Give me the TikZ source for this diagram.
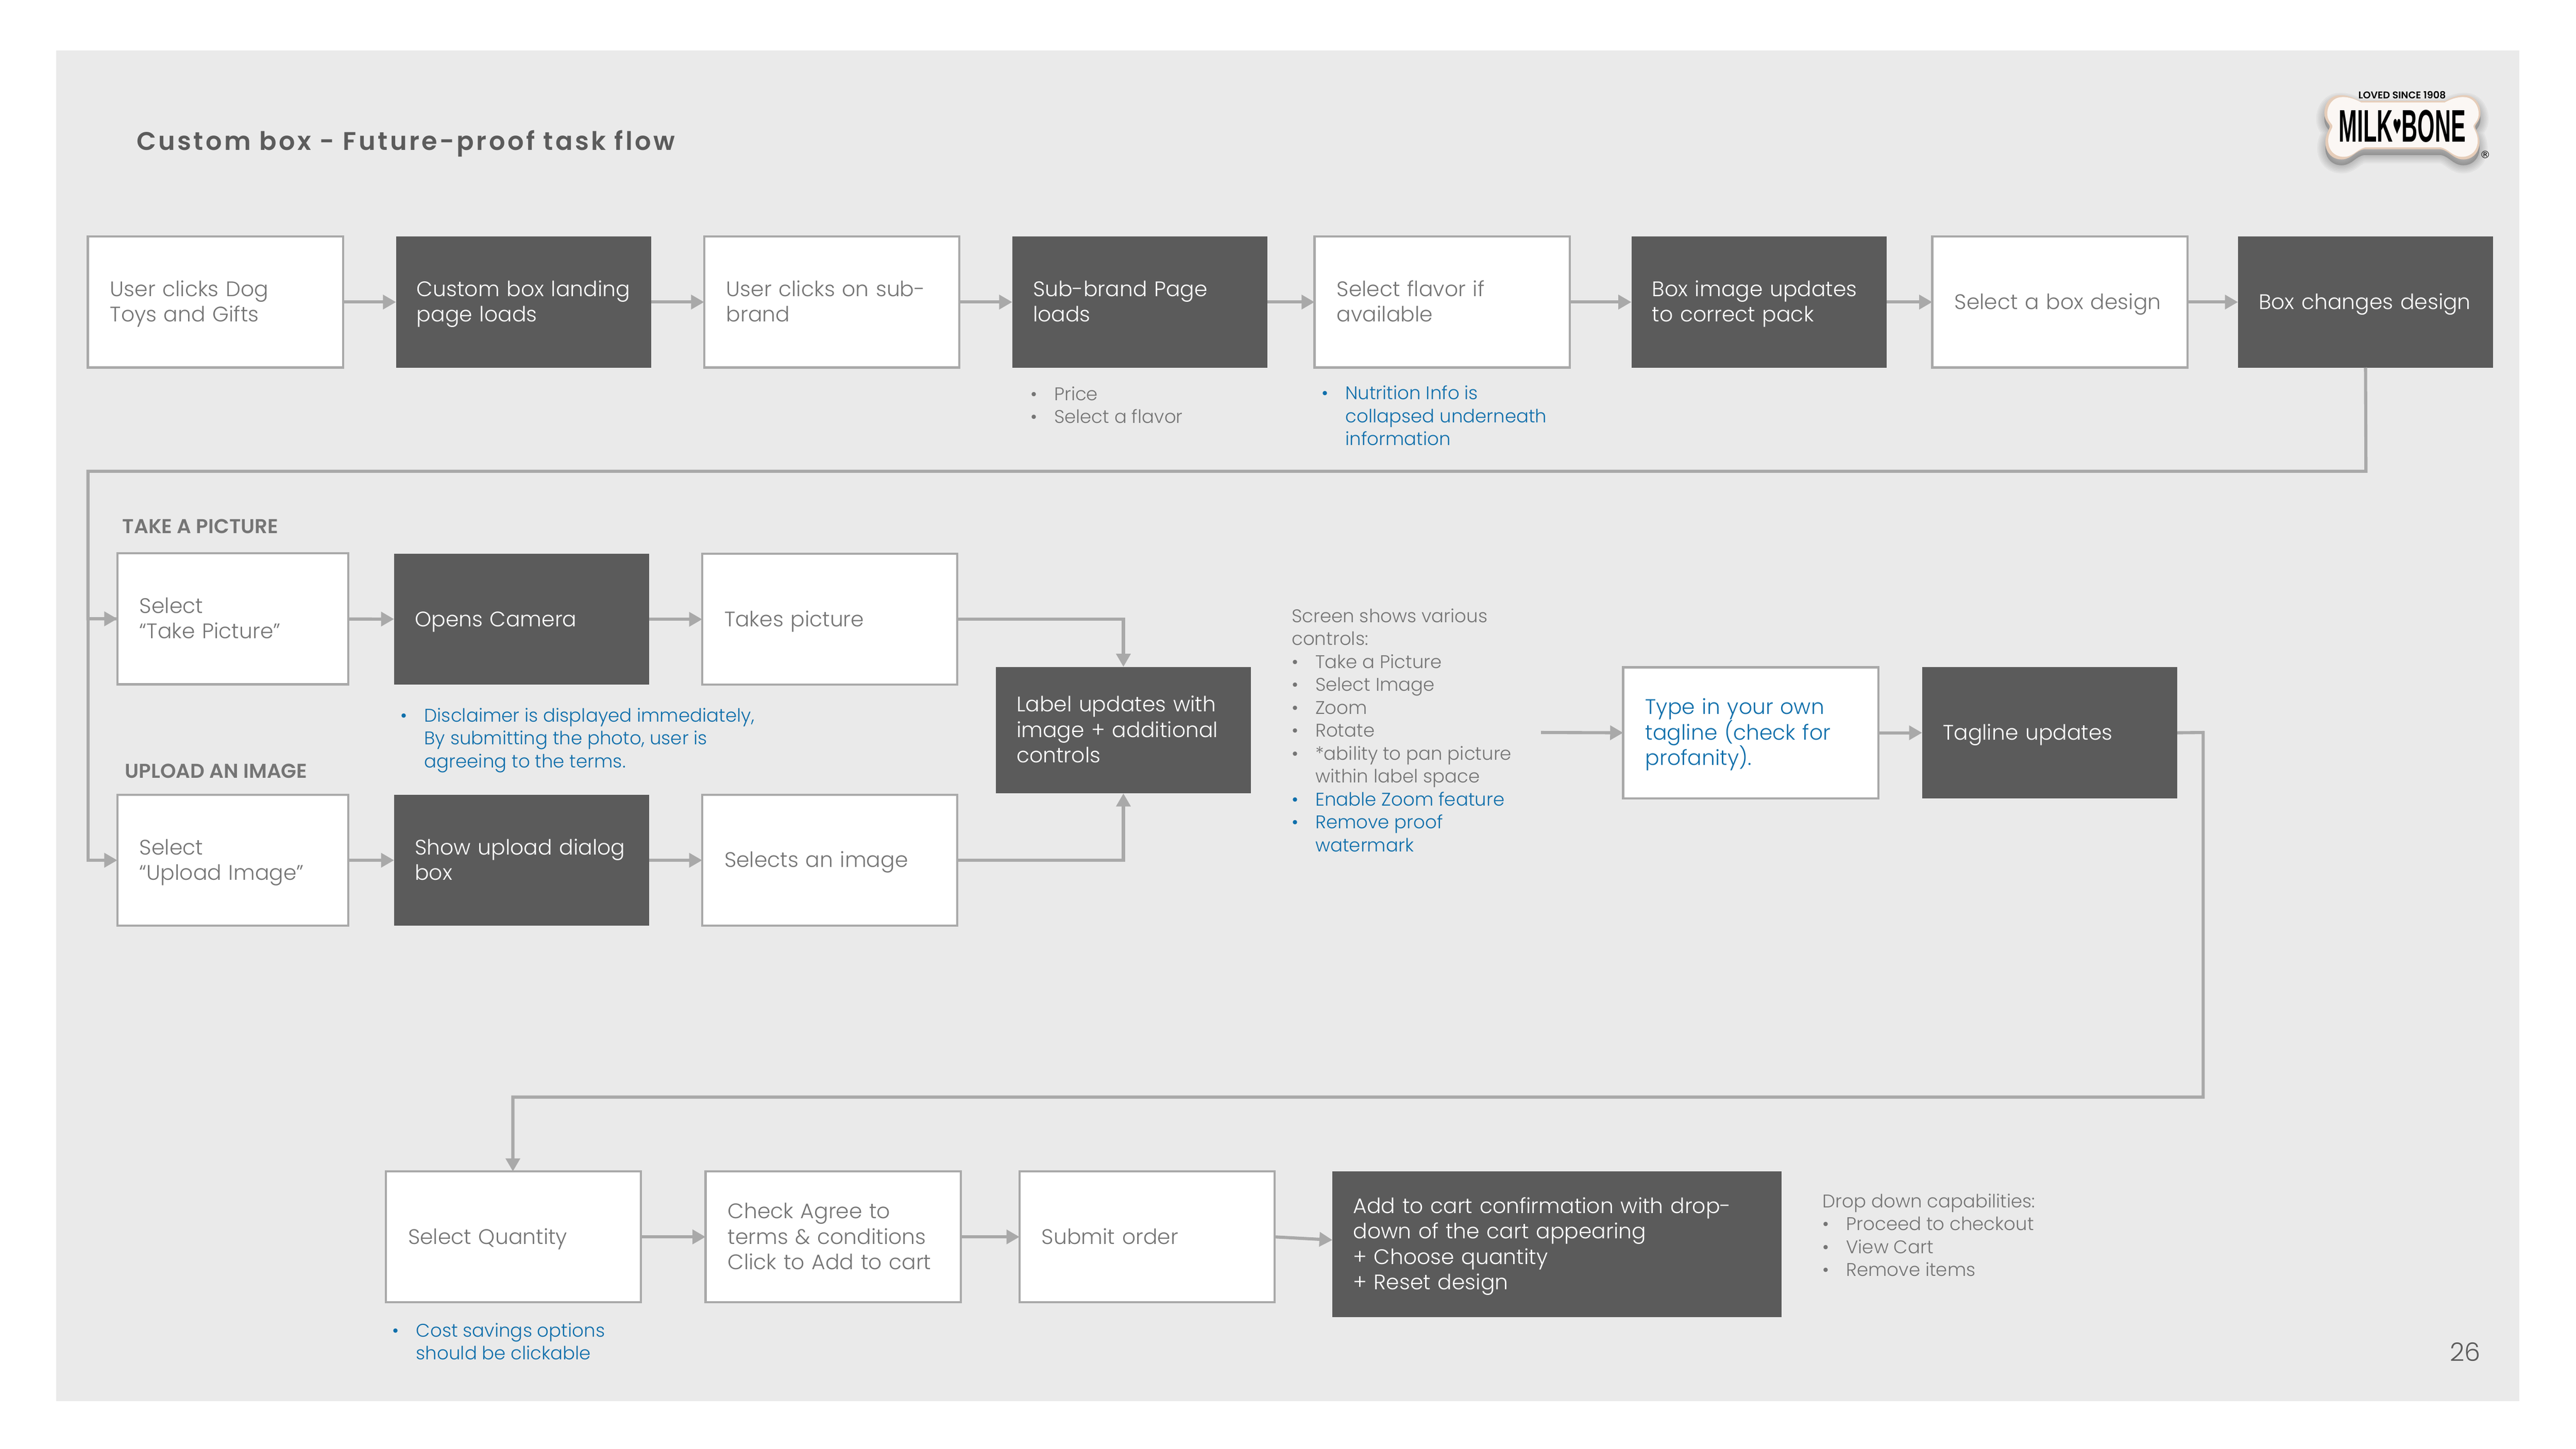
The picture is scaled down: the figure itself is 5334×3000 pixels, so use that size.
\documentclass[tikz,border=0pt]{standalone}
\usepackage{fontspec}
\setmainfont{Poppins Light}
\newfontfamily\headfont{Poppins SemiBold}
\newfontfamily\titlefont[LetterSpace=9]{Poppins SemiBold}
\newfontfamily\logofont{Liberation Sans Bold}
\newfontfamily\symfont{DejaVu Sans}
\usetikzlibrary{arrows.meta}

\definecolor{pagegray}{HTML}{EAEAEA}
\definecolor{darkfill}{HTML}{5B5B5B}
\definecolor{linegray}{HTML}{A9A9A9}
\definecolor{textgray}{HTML}{757575}
\definecolor{noteblue}{HTML}{0F6FAB}
\definecolor{rimtan}{HTML}{E6CDB9}

\tikzset{
  boxbase/.style={anchor=north west, minimum width=5.28cm, minimum height=2.71cm, text width=4.42cm,
    inner xsep=.43cm, inner ysep=0pt, outer sep=0pt, align=left,
    font=\fontsize{12.4}{15}\selectfont,
    execute at begin node=\rule{0pt}{11.7pt}, execute at end node=\rule[-3.3pt]{0pt}{3.3pt}},
  whitebox/.style={boxbase, fill=white, draw=linegray, line width=.045cm, text=textgray,
    inner xsep=.46cm, text width=4.36cm},
  darkbox/.style={boxbase, fill=darkfill, text=white},
  flow/.style={draw=linegray, line width=.065cm, -{Triangle[length=.27cm,width=.29cm]}},
  flowline/.style={draw=linegray, line width=.065cm},
  note/.style={anchor=west, inner sep=0pt, align=left, text=textgray, font=\fontsize{10.8}{13.5}\selectfont},
  heading/.style={anchor=west, inner sep=0pt, text=textgray, font=\headfont\fontsize{11.8}{14}\selectfont},
}
\newcommand{\bulletitem}{\makebox[.49cm][l]{\textbullet}}
\newcommand{\bulletgap}{\hspace*{.49cm}}
\newcommand{\bonepath}{(4885,209) .. controls (4870,200) and (4852,195) .. (4838,198)
  .. controls (4816,203) and (4808,232) .. (4816,248) .. controls (4820,256) and (4824,258) .. (4824,262)
  .. controls (4824,268) and (4816,276) .. (4815,292) .. controls (4814,318) and (4832,332) .. (4852,330)
  .. controls (4870,328) and (4878,312) .. (4895,309) -- (5054,309)
  .. controls (5071,312) and (5079,328) .. (5097,330) .. controls (5117,332) and (5135,318) .. (5134,292)
  .. controls (5133,276) and (5125,268) .. (5125,262) .. controls (5125,258) and (5129,256) .. (5133,248)
  .. controls (5141,232) and (5133,203) .. (5111,198) .. controls (5097,195) and (5079,200) .. (5064,209) -- cycle}

\begin{document}
\begin{tikzpicture}[x=.01cm, y=-.01cm]
\useasboundingbox (0,0) rectangle (5334,3000);
\fill[pagegray] (116,105) rectangle (5217,2902);

% logo
\foreach \s in {34,28,22,16,10,4} {
  \draw[line width=\s*.01cm, draw=black, fill=black, opacity=.035, line join=round, yshift=-.12cm] \bonepath;
}
\fill[rimtan] \bonepath;
\fill[white, opacity=.85, xscale=.97, yscale=.93, shift={(155,19)}] \bonepath;
\node[inner sep=0pt, text=black] (logotop) at (4974,197) {\resizebox{1.81cm}{!}{\headfont LOVED SINCE 1908}};
\node[inner sep=0pt, text=black] (logoname) at (4974,261) {\resizebox{2.63cm}{.66cm}{\logofont MILK{\symfont\raisebox{.3ex}{\scalebox{.45}{♥}}}BONE}};
\node[inner sep=0pt, text=black, font=\fontsize{6}{6}\selectfont] (logomark) at (5146,320) {\symfont ®};

\node[anchor=west, inner sep=0pt, text=darkfill, font=\titlefont\fontsize{15}{18}\selectfont] (title) at (282,297) {Custom box - Future-proof task flow};

% first row
\node[whitebox] (dogtoys) at (182,490) {User clicks Dog\\Toys and Gifts};
\node[darkbox] (landing) at (820,490) {Custom box landing\\page loads};
\node[whitebox] (subclick) at (1458,490) {User clicks on sub-\\brand};
\node[darkbox] (subpage) at (2096,490) {Sub-brand Page\\loads};
\node[whitebox] (flavor) at (2722,490) {Select flavor if\\available};
\node[darkbox] (packbox) at (3378,490) {Box image updates\\to correct pack};
\node[whitebox] (design) at (4001,490) {Select a box design};
\node[darkbox] (changes) at (4634,490) {Box changes design};

\node[note] (pricenote) at (2133,839) {\bulletitem Price\\\bulletitem Select a flavor};
\node[note, text=noteblue] (infonote) at (2736,861) {\bulletitem Nutrition Info is\\\bulletgap collapsed underneath\\\bulletgap information};

% picture and upload rows
\node[heading] (takehead) at (253,1090) {TAKE A PICTURE};
\node[heading] (uploadhead) at (258,1597) {UPLOAD AN IMAGE};
\node[whitebox, minimum width=4.78cm, text width=3.86cm] (takepic) at (243,1146) {Select\\“Take Picture”};
\node[darkbox] (camera) at (816,1147) {Opens Camera};
\node[whitebox] (takes) at (1454,1147) {Takes picture};
\node[whitebox, minimum width=4.78cm, text width=3.86cm] (uploadpic) at (243,1646) {Select\\“Upload Image”};
\node[darkbox] (dialog) at (816,1646) {Show upload dialog\\box};
\node[whitebox] (selects) at (1454,1646) {Selects an image};
\node[darkbox, minimum height=2.62cm] (label) at (2062,1381) {Label updates with\\image + additional\\controls};

\node[note, text=noteblue] (disclaimer) at (829,1533) {\bulletitem Disclaimer is displayed immediately,\\\bulletgap By submitting the photo, user is\\\bulletgap agreeing to the terms.};
\node[note] (controls) at (2674,1512) {Screen shows various\\controls:\\\bulletitem Take a Picture\\\bulletitem Select Image\\\bulletitem Zoom\\\bulletitem Rotate\\\bulletitem *ability to pan picture\\\bulletgap within label space\\\textcolor{noteblue}{\bulletitem Enable Zoom feature}\\\textcolor{noteblue}{\bulletitem Remove proof}\\\textcolor{noteblue}{\bulletgap watermark}};
\node[whitebox, text=noteblue] (tagtype) at (3361,1382) {Type in your own\\tagline (check for\\profanity).};
\node[darkbox] (tagupdate) at (3980,1382) {Tagline updates};

% last row
\node[whitebox] (quantity) at (799,2426) {Select Quantity};
\node[whitebox] (agree) at (1461,2426) {Check Agree to\\terms \& conditions\\Click to Add to cart};
\node[whitebox] (submit) at (2111,2426) {Submit order};
\node[darkbox, minimum width=9.29cm, minimum height=3.02cm, text width=8.43cm] (cart) at (2759,2426) {Add to cart confirmation with drop-\\down of the cart appearing\\+ Choose quantity\\+ Reset design};
\node[note, text=noteblue] (savings) at (812,2778) {\bulletitem Cost savings options\\\bulletgap should be clickable};
\node[note] (dropnote) at (3773,2558) {Drop down capabilities:\\\bulletitem Proceed to checkout\\\bulletitem View Cart\\\bulletitem Remove items};

\node[anchor=east, inner sep=0pt, text=darkfill, font=\fontsize{15}{18}\selectfont] (pagenum) at (5137,2800) {26};

% corner points of the long runs
\coordinate (rowdrop) at (4899,976);
\coordinate (rowleft) at (182,976);
\coordinate (sidefree) at (3191,1517);
\coordinate (tagright) at (4562,1517);
\coordinate (tagdown) at (4562,2272);
\coordinate (qtyabove) at (1062,2272);

\draw[flow] (dogtoys) -- (landing);
\draw[flow] (landing) -- (subclick);
\draw[flow] (subclick) -- (subpage);
\draw[flow] (subpage) -- (flavor);
\draw[flow] (flavor) -- (packbox);
\draw[flow] (packbox) -- (design);
\draw[flow] (design) -- (changes);
\draw[flowline] (changes.south) -- (rowdrop) -- (rowleft) |- (takepic.west);
\draw[flow] (rowleft) |- (takepic.west);
\draw[flow] (rowleft) |- (uploadpic.west);
\draw[flow] (takepic) -- (camera);
\draw[flow] (camera) -- (takes);
\draw[flow] (uploadpic) -- (dialog);
\draw[flow] (dialog) -- (selects);
\draw[flow] (takes.east) -| (label.north);
\draw[flow] (selects.east) -| (label.south);
\draw[flow] (sidefree) -- (tagtype.west);
\draw[flow] (tagtype) -- (tagupdate);
\draw[flow] (tagupdate.east) -- (tagright) -- (tagdown) -- (qtyabove) -- (quantity.north -| qtyabove);
\draw[flow] (quantity) -- (agree);
\draw[flow] (agree) -- (submit);
\draw[flow] (submit.east) -- ([yshift=.09cm]cart.west);
\end{tikzpicture}
\end{document}
